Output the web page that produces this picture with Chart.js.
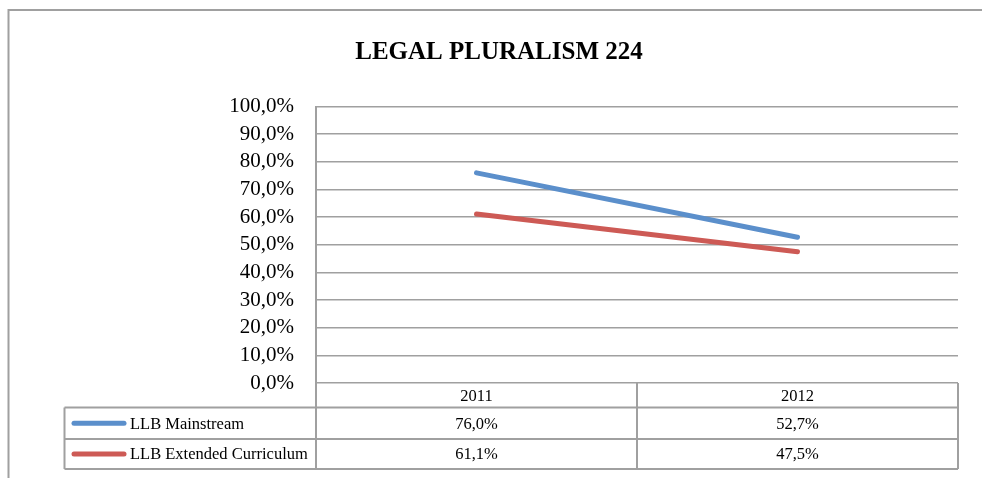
<!DOCTYPE html>
<html>
<head>
<meta charset="utf-8">
<script src="https://cdn.jsdelivr.net/npm/chart.js@4/dist/chart.umd.min.js"></script>
<style>
  html, body { margin: 0; padding: 0; background: #fff; }
  #chart { display: block; }
</style>
</head>
<body>
<canvas id="chart" width="982" height="478"></canvas>
<script>
// Data
const years = ['2011', '2012'];
const seriesNames = ['LLB Mainstream', 'LLB Extended Curriculum'];
const mainstream = [76.0, 52.7];
const extended = [61.1, 47.5];
const seriesColors = ['#5b8fcb', '#cd5a55'];

const SERIF = '"Liberation Serif", "DejaVu Serif", serif';
const GRID = '#a0a0a0';

function pct(v) {
  return v.toFixed(1).replace('.', ',') + '%';
}

// Outer frame of the chart object (runs off the right and bottom of the crop)
const framePlugin = {
  id: 'frame',
  beforeDraw(chart) {
    const ctx = chart.ctx;
    ctx.save();
    ctx.strokeStyle = GRID;
    ctx.lineWidth = 2;
    ctx.beginPath();
    ctx.moveTo(8.5, chart.height);
    ctx.lineTo(8.5, 10);
    ctx.lineTo(chart.width, 10);
    ctx.stroke();
    ctx.restore();
  }
};

// Data table under the x axis, with legend keys in the first column
const tablePlugin = {
  id: 'dataTable',
  afterDraw(chart) {
    const ctx = chart.ctx;
    const area = chart.chartArea;
    const x = chart.scales.x;
    const top = area.bottom;
    const headBottom = top + 24.5;
    const rowBottoms = [headBottom + 31.5, headBottom + 61.5];
    const tableLeft = 64.5;
    const cols = years.map((_, i) => x.getPixelForValue(i));
    const splits = [area.left];
    for (let i = 0; i < cols.length - 1; i++) splits.push((cols[i] + cols[i + 1]) / 2);
    splits.push(area.right);

    ctx.save();
    ctx.strokeStyle = GRID;
    ctx.lineWidth = 2;

    // header row
    ctx.beginPath();
    ctx.moveTo(area.left, headBottom);
    ctx.lineTo(area.right, headBottom);
    splits.forEach(sx => {
      ctx.moveTo(sx, top);
      ctx.lineTo(sx, rowBottoms[rowBottoms.length - 1]);
    });
    // series rows
    ctx.moveTo(tableLeft, headBottom);
    ctx.lineTo(area.right, headBottom);
    rowBottoms.forEach(rb => {
      ctx.moveTo(tableLeft, rb);
      ctx.lineTo(area.right, rb);
    });
    ctx.moveTo(tableLeft, headBottom);
    ctx.lineTo(tableLeft, rowBottoms[rowBottoms.length - 1]);
    ctx.stroke();

    ctx.fillStyle = '#000';
    ctx.font = '16.5px ' + SERIF;
    ctx.textBaseline = 'middle';
    ctx.textAlign = 'center';
    years.forEach((y, i) => ctx.fillText(y, cols[i], (top + headBottom) / 2 + 1));

    chart.data.datasets.forEach((ds, r) => {
      const rTop = r === 0 ? headBottom : rowBottoms[r - 1];
      const cy = (rTop + rowBottoms[r]) / 2;
      ctx.strokeStyle = ds.borderColor;
      ctx.lineWidth = 5;
      ctx.lineCap = 'round';
      ctx.beginPath();
      ctx.moveTo(74, cy);
      ctx.lineTo(124, cy);
      ctx.stroke();
      ctx.textAlign = 'left';
      ctx.fillText(ds.label, 130, cy + 1);
      ctx.textAlign = 'center';
      ds.data.forEach((v, i) => ctx.fillText(pct(v), cols[i], cy + 1));
    });
    ctx.restore();
  }
};

new Chart(document.getElementById('chart'), {
  type: 'line',
  data: {
    labels: years,
    datasets: [
      {
        label: seriesNames[0],
        data: mainstream,
        borderColor: seriesColors[0],
        backgroundColor: seriesColors[0],
        borderWidth: 5,
        borderCapStyle: 'round',
        pointRadius: 0,
        tension: 0
      },
      {
        label: seriesNames[1],
        data: extended,
        borderColor: seriesColors[1],
        backgroundColor: seriesColors[1],
        borderWidth: 5,
        borderCapStyle: 'round',
        pointRadius: 0,
        tension: 0
      }
    ]
  },
  options: {
    responsive: false,
    animation: false,
    layout: { padding: { left: 40, right: 24, top: 0, bottom: 95 } },
    scales: {
      x: {
        type: 'category',
        display: false,
        offset: true
      },
      y: {
        min: 0,
        max: 100,
        ticks: {
          stepSize: 10,
          autoSkip: false,
          padding: 22,
          color: '#000',
          font: { family: SERIF, size: 21 },
          callback: v => pct(v)
        },
        grid: { color: GRID, lineWidth: 1.5, drawTicks: false },
        border: { display: true, color: GRID, width: 2 },
        afterFit(scale) { scale.width = 276; }
      }
    },
    plugins: {
      legend: { display: false },
      tooltip: { enabled: false },
      title: {
        display: true,
        text: 'LEGAL PLURALISM 224',
        color: '#000',
        font: { family: SERIF, size: 25, weight: 'bold' },
        padding: { top: 38, bottom: 38.5 }
      }
    }
  },
  plugins: [framePlugin, tablePlugin]
});
</script>
</body>
</html>
